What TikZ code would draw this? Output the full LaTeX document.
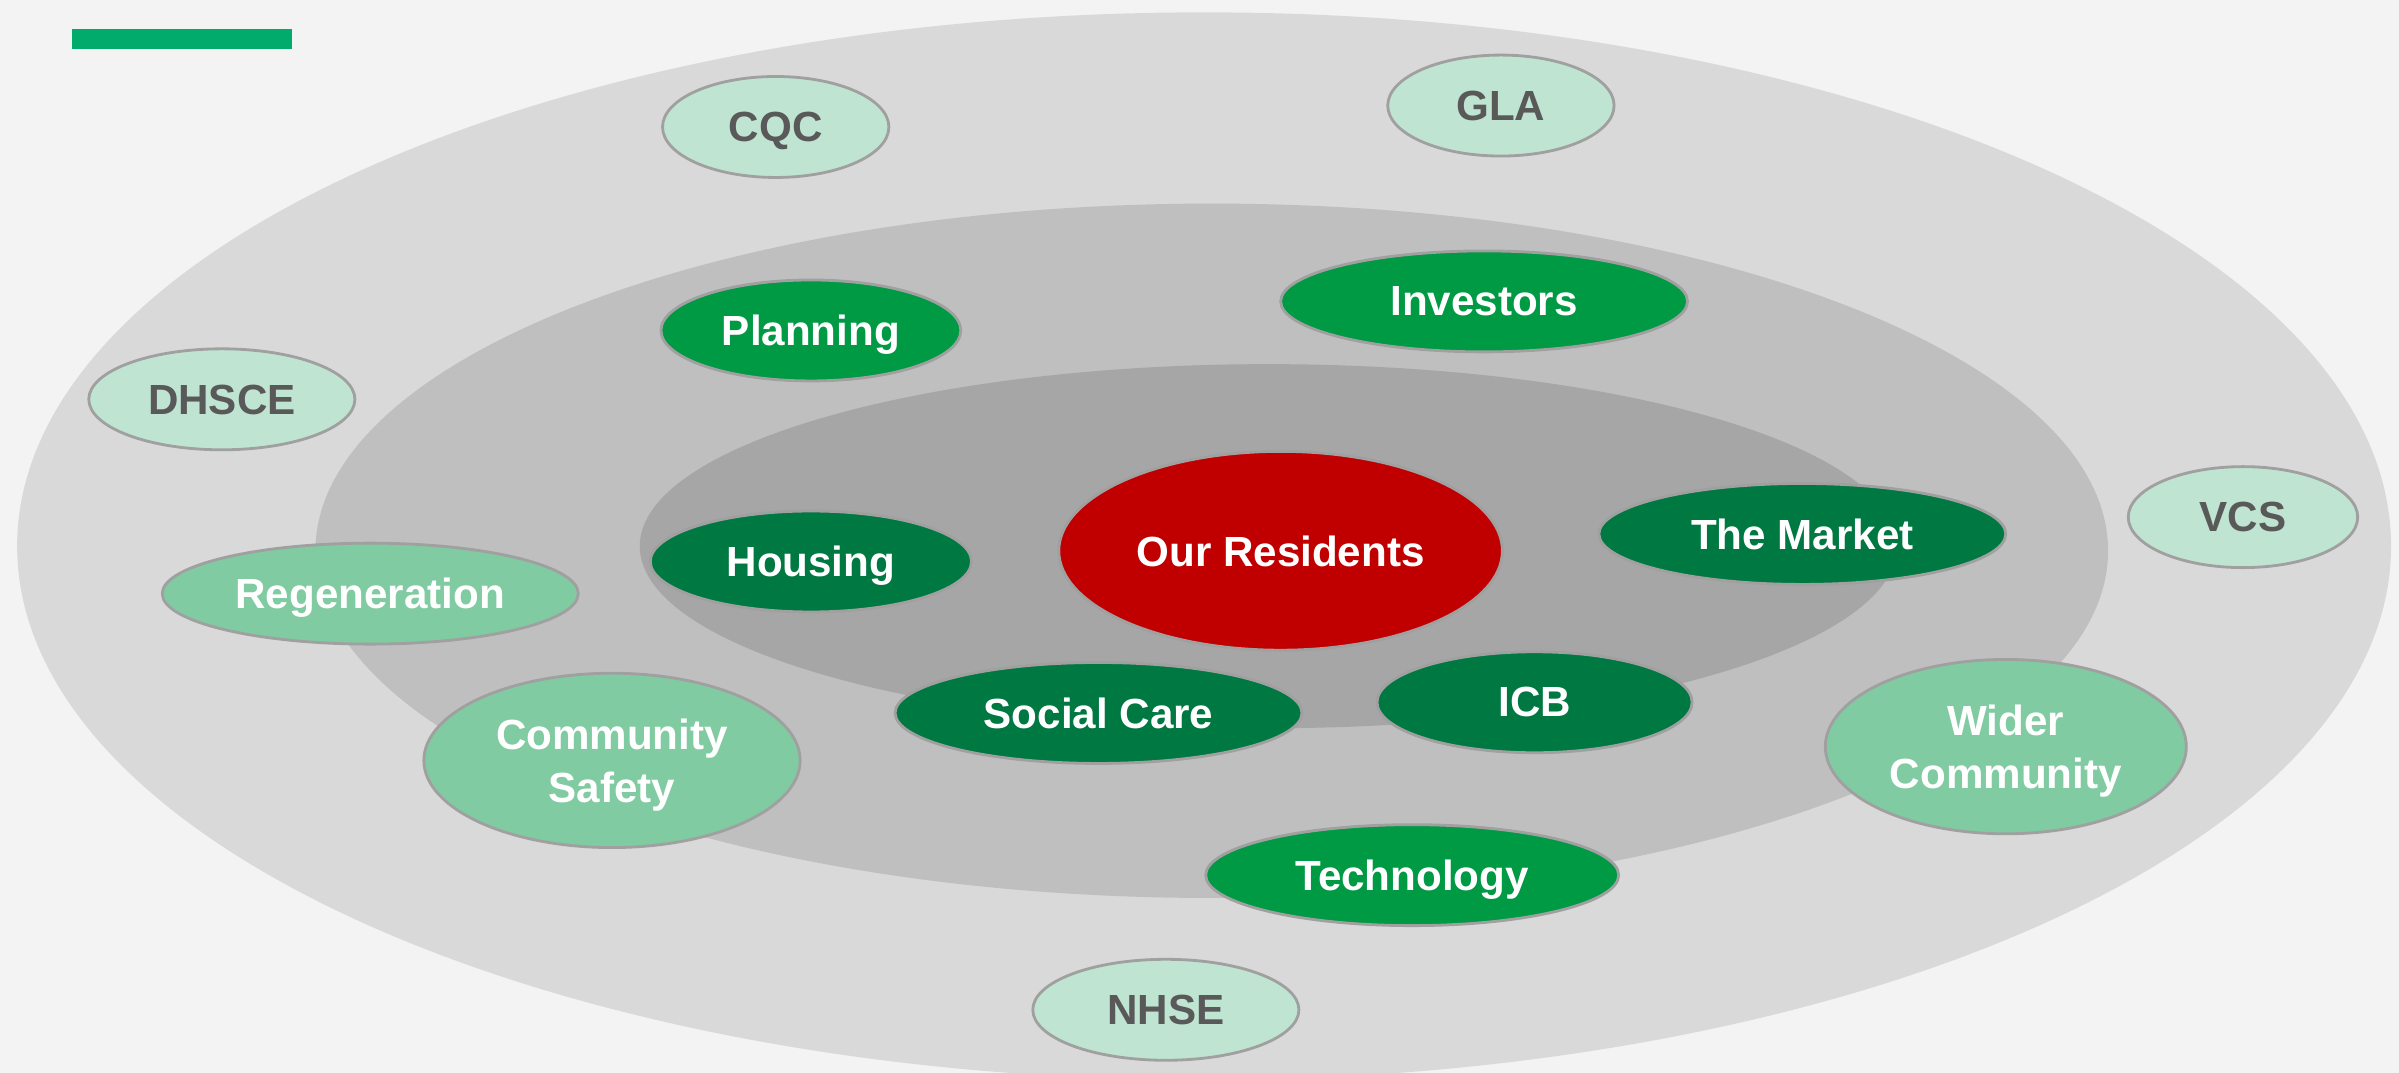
\documentclass[tikz,border=0pt]{standalone}
\usepackage{fontspec}
\setmainfont{Liberation Sans}
\usetikzlibrary{shapes.geometric}
\definecolor{bgc}{RGB}{243,243,243}
\definecolor{ringA}{RGB}{217,217,217}
\definecolor{ringB}{RGB}{191,191,191}
\definecolor{ringC}{RGB}{166,166,166}
\definecolor{resred}{RGB}{192,0,0}
\definecolor{darkgr}{RGB}{0,120,66}
\definecolor{midgr}{RGB}{0,153,68}
\definecolor{lightgr}{RGB}{128,203,161}
\definecolor{mintgr}{RGB}{191,229,210}
\definecolor{edgegray}{RGB}{160,160,160}
\definecolor{txtgray}{RGB}{89,89,89}
\definecolor{barc}{RGB}{0,171,107}
\tikzset{
  blob/.style={ellipse, draw=edgegray, line width=0.8pt, inner sep=0pt,
    font=\fontsize{12}{15}\selectfont\bfseries, align=center, text depth=0pt,
    minimum height=1.01cm},
  redblob/.style={blob, fill=resred, text=white},
  darkblob/.style={blob, fill=darkgr, text=white},
  midblob/.style={blob, fill=midgr, text=white},
  lightblob/.style={blob, fill=lightgr, text=white},
  mintblob/.style={blob, fill=mintgr, text=txtgray},
}
\begin{document}
\begin{tikzpicture}[x=0.0153cm, y=-0.0153cm]
\useasboundingbox (0,0) rectangle (1568,701);
\clip (0,0) rectangle (1568,701);
\fill[bgc] (0,0) rectangle (1568,701);
\fill[barc] (47,19) rectangle (191,32);
% rings
\fill[ringA] (787,357) ellipse [x radius=11.873cm, y radius=5.340cm];
\fill[ringB] (792,360) ellipse [x radius=8.966cm, y radius=3.473cm];
\fill[ringC] (829,357) ellipse [x radius=6.288cm, y radius=1.821cm];
% core
\node[redblob, minimum width=4.437cm, minimum height=1.989cm] (res) at (837,360) {Our Residents};
% inner ring
\node[darkblob, minimum width=3.213cm] (housing) at (530,367) {Housing};
\node[darkblob, minimum width=4.070cm] (market) at (1178,349) {The Market};
\node[darkblob, minimum width=4.070cm] (social) at (718,466) {Social Care};
\node[darkblob, minimum width=3.152cm] (icb) at (1003,459) {ICB};
% middle ring
\node[midblob, minimum width=2.999cm] (planning) at (530,216) {Planning};
\node[midblob, minimum width=4.070cm] (investors) at (970,197) {Investors};
\node[midblob, minimum width=4.131cm] (tech) at (923,572) {Technology};
\node[lightblob, minimum width=4.162cm] (regen) at (242,388) {Regeneration};
\node[lightblob, minimum width=3.764cm, minimum height=1.744cm] (commsafe) at (400,497) {Community\\Safety};
\node[lightblob, minimum width=3.611cm, minimum height=1.744cm] (wider) at (1311,488) {Wider\\Community};
% outer ring
\node[mintblob, minimum width=2.264cm] (cqc) at (507,83) {CQC};
\node[mintblob, minimum width=2.264cm] (gla) at (981,69) {GLA};
\node[mintblob, minimum width=2.662cm] (dhsce) at (145,261) {DHSCE};
\node[mintblob, minimum width=2.295cm] (vcs) at (1466,338) {VCS};
\node[mintblob, minimum width=2.662cm] (nhse) at (762,660) {NHSE};
\end{tikzpicture}
\end{document}
